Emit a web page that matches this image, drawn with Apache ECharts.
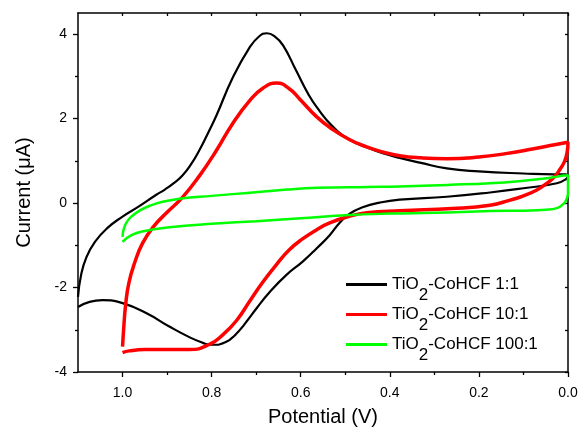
<!DOCTYPE html>
<html><head><meta charset="utf-8">
<script src="https://cdn.jsdelivr.net/npm/echarts@6/dist/echarts.min.js"></script>
<style>html,body{margin:0;padding:0;background:#fff}#c{width:578px;height:429px}</style>
</head><body><div id="c"></div>
<script>
const seriesNames = ['TiO2-CoHCF 1:1', 'TiO2-CoHCF 10:1', 'TiO2-CoHCF 100:1'];
const seriesColors = ['#000000', '#ff0000', '#00ff00'];

const xMajorTicks = [0, 0.2, 0.4, 0.6, 0.8, 1.0];
const xMinorTicks = [0.1, 0.3, 0.5, 0.7, 0.9];
const yMajorTicks = [-4, -2, 0, 2, 4];
const yMinorTicks = [-3, -1, 1, 3];

// TiO2-CoHCF 1:1 (path order: forward sweep, then reverse sweep)
const blackPotential = [1.100, 1.093, 1.081, 1.062, 1.035, 1.000, 0.965, 0.925, 0.905, 0.885, 0.865, 0.846, 0.827, 0.808, 0.789, 0.753, 0.715, 0.693, 0.676, 0.660, 0.640, 0.610, 0.583, 0.564, 0.528, 0.490, 0.452, 0.416, 0.378, 0.330, 0.272, 0.200, 0.100, 0.030, 0.006,
  0.000, 0.004, 0.025, 0.100, 0.175, 0.272, 0.378, 0.423, 0.461, 0.490, 0.512, 0.535, 0.564, 0.595, 0.632, 0.670, 0.699, 0.722, 0.733, 0.744, 0.755, 0.766, 0.778, 0.789, 0.805, 0.820, 0.849, 0.894, 0.946, 1.000, 1.045, 1.074, 1.100];
const blackCurrent = [-2.22, -1.70, -1.28, -0.92, -0.60, -0.32, -0.09, 0.19, 0.32, 0.47, 0.66, 0.92, 1.26, 1.66, 2.08, 2.96, 3.68, 3.95, 4.02, 3.96, 3.74, 3.13, 2.58, 2.27, 1.81, 1.50, 1.32, 1.18, 1.07, 0.95, 0.82, 0.75, 0.70, 0.68, 0.68,
  0.64, 0.57, 0.47, 0.35, 0.25, 0.15, 0.08, 0.01, -0.10, -0.25, -0.46, -0.76, -1.07, -1.38, -1.70, -2.11, -2.49, -2.81, -2.96, -3.09, -3.20, -3.28, -3.33, -3.355, -3.35, -3.31, -3.18, -2.93, -2.61, -2.37, -2.30, -2.34, -2.46];

// TiO2-CoHCF 10:1
const redPotential = [1.000, 0.997, 0.993, 0.986, 0.973, 0.955, 0.930, 0.900, 0.865, 0.827, 0.789, 0.753, 0.715, 0.685, 0.654, 0.625, 0.602, 0.564, 0.528, 0.490, 0.452, 0.416, 0.378, 0.330, 0.272, 0.200, 0.140, 0.080, 0.030, 0.000,
  0.002, 0.008, 0.018, 0.030, 0.047, 0.070, 0.100, 0.130, 0.175, 0.260, 0.378, 0.452, 0.490, 0.535, 0.564, 0.596, 0.625, 0.654, 0.685, 0.715, 0.744, 0.775, 0.804, 0.849, 0.900, 0.950, 0.985, 1.000];
const redCurrent = [-3.40, -2.90, -2.40, -1.90, -1.42, -0.95, -0.55, -0.22, 0.14, 0.65, 1.25, 1.88, 2.42, 2.72, 2.84, 2.70, 2.46, 2.04, 1.74, 1.50, 1.33, 1.21, 1.12, 1.07, 1.05, 1.09, 1.17, 1.28, 1.38, 1.44,
  1.20, 0.98, 0.80, 0.63, 0.47, 0.31, 0.17, 0.07, -0.05, -0.13, -0.18, -0.23, -0.31, -0.47, -0.63, -0.85, -1.10, -1.45, -1.87, -2.33, -2.78, -3.12, -3.34, -3.47, -3.47, -3.47, -3.50, -3.54];

// TiO2-CoHCF 100:1
const greenPotential = [1.000, 0.997, 0.990, 0.978, 0.962, 0.940, 0.910, 0.872, 0.800, 0.720, 0.630, 0.560, 0.450, 0.380, 0.270, 0.175, 0.100, 0.040, 0.010, 0.000,
  0.000, 0.000, 0.003, 0.010, 0.025, 0.050, 0.100, 0.175, 0.300, 0.400, 0.500, 0.600, 0.700, 0.800, 0.900, 0.950, 0.980, 1.000];
const greenCurrent = [-0.80, -0.60, -0.44, -0.30, -0.18, -0.07, 0.03, 0.10, 0.17, 0.24, 0.32, 0.36, 0.38, 0.39, 0.43, 0.47, 0.53, 0.60, 0.65, 0.66,
  0.45, 0.24, 0.10, -0.02, -0.12, -0.16, -0.18, -0.19, -0.23, -0.25, -0.29, -0.36, -0.43, -0.49, -0.58, -0.66, -0.76, -0.92];

const seriesX = [blackPotential, redPotential, greenPotential];
const seriesY = [blackCurrent, redCurrent, greenCurrent];
const seriesWidths = [2.2, 3.5, 2.5];

const FONT = 'Liberation Sans, Arial, sans-serif';
const axisColor = '#000';

const xCommon = {type: 'value', min: 0, max: 1.1, inverse: true, splitLine: {show: false}};
const yCommon = {type: 'value', min: -4, max: 4.5, splitLine: {show: false}};

const option = {
  animation: false,
  backgroundColor: '#fff',
  textStyle: {fontFamily: FONT},
  grid: {left: 78, right: 10, top: 13, bottom: 57, containLabel: false, outerBoundsMode: 'none'},
  xAxis: [
    Object.assign({}, xCommon, {
      position: 'bottom',
      axisLine: {show: true, onZero: false, lineStyle: {color: axisColor, width: 1.5}},
      axisTick: {show: true, inside: false, length: 5, customValues: xMajorTicks, lineStyle: {color: axisColor, width: 1.3}},
      axisLabel: {show: true, customValues: xMajorTicks, formatter: v => v.toFixed(1), fontSize: 14, color: '#000', margin: 14, fontFamily: FONT},
      name: 'Potential (V)', nameLocation: 'middle', nameGap: 35,
      nameTextStyle: {fontSize: 20, color: '#000', fontFamily: FONT}
    }),
    Object.assign({}, xCommon, {
      position: 'bottom',
      axisLine: {show: false, onZero: false},
      axisTick: {show: true, inside: false, length: 3, customValues: xMinorTicks, lineStyle: {color: axisColor, width: 1.3}},
      axisLabel: {show: false}
    }),
    Object.assign({}, xCommon, {
      position: 'top',
      axisLine: {show: true, onZero: false, lineStyle: {color: axisColor, width: 1.5}},
      axisTick: {show: true, inside: true, length: 3, customValues: xMajorTicks.concat(xMinorTicks), lineStyle: {color: axisColor, width: 1.3}},
      axisLabel: {show: false}
    })
  ],
  yAxis: [
    Object.assign({}, yCommon, {
      position: 'left',
      axisLine: {show: true, onZero: false, lineStyle: {color: axisColor, width: 1.5}},
      axisTick: {show: true, inside: false, length: 5, customValues: yMajorTicks, lineStyle: {color: axisColor, width: 1.3}},
      axisLabel: {show: true, customValues: yMajorTicks, fontSize: 14, color: '#000', margin: 11, fontFamily: FONT},
      name: 'Current (\u03bcA)', nameLocation: 'middle', nameGap: 44, nameRotate: 90,
      nameTextStyle: {fontSize: 20, color: '#000', fontFamily: FONT}
    }),
    Object.assign({}, yCommon, {
      position: 'left',
      axisLine: {show: false, onZero: false},
      axisTick: {show: true, inside: false, length: 3, customValues: yMinorTicks, lineStyle: {color: axisColor, width: 1.3}},
      axisLabel: {show: false}
    }),
    Object.assign({}, yCommon, {
      position: 'right',
      axisLine: {show: true, onZero: false, lineStyle: {color: axisColor, width: 1.5}},
      axisTick: {show: true, inside: true, length: 3, customValues: yMajorTicks.concat(yMinorTicks), lineStyle: {color: axisColor, width: 1.3}},
      axisLabel: {show: false}
    })
  ],
  legend: {
    orient: 'vertical', left: 346, top: 265, padding: 0,
    itemWidth: 41, itemHeight: 3, itemGap: -9,
    icon: 'rect',
    data: seriesNames,
    formatter: name => name.replace('TiO2', 'TiO{s|2}'),
    textStyle: {
      fontSize: 17, color: '#000', fontFamily: FONT, lineHeight: 20,
      rich: {s: {fontSize: 17, color: '#000', fontFamily: FONT, lineHeight: 20, padding: [22, 0, 0, 0]}}
    }
  },
  series: seriesNames.map((name, i) => ({
    name: name,
    type: 'line',
    xAxisIndex: 0, yAxisIndex: 0,
    symbol: 'none', showSymbol: false,
    smooth: 0.5,
    clip: true,
    color: seriesColors[i],
    itemStyle: {color: seriesColors[i]},
    lineStyle: {color: seriesColors[i], width: seriesWidths[i]},
    data: seriesX[i].map((x, k) => [x, seriesY[i][k]])
  }))
};

const chart = echarts.init(document.getElementById('c'), null, {renderer: 'canvas'});
chart.setOption(option);
</script>
</body></html>
